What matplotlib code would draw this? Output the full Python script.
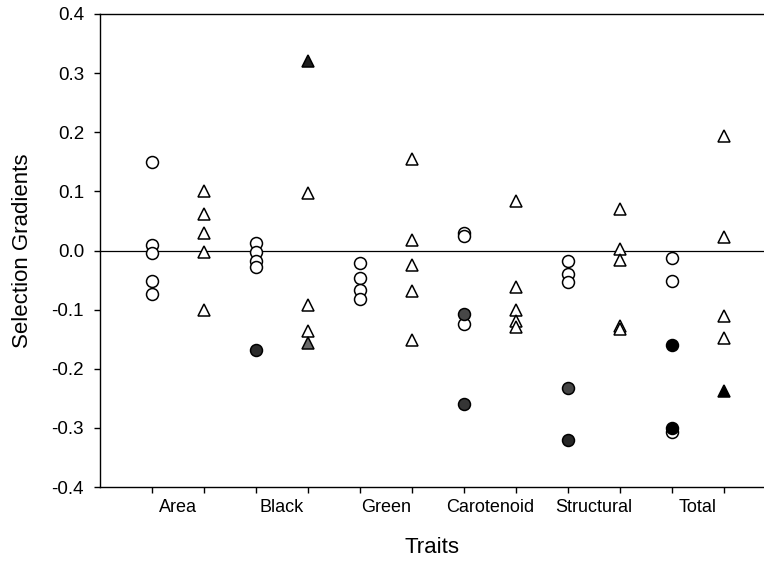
import matplotlib
matplotlib.use("Agg")
import matplotlib.pyplot as plt

plt.rcParams['font.family'] = ['Liberation Sans', 'DejaVu Sans']

# Trait categories along the x axis
categories = ['Area', 'Black', 'Green', 'Carotenoid', 'Structural', 'Total']

# Selection gradients, circles (left column of each trait)
circle_open = [
    [0.150, 0.010, -0.004, -0.052, -0.074],
    [0.013, -0.003, -0.017, -0.028],
    [-0.021, -0.047, -0.067, -0.082],
    [0.029, 0.024, -0.124],
    [-0.017, -0.039, -0.054],
    [-0.012, -0.052, -0.307],
]
circle_filled = [
    [],
    [-0.168],
    [],
    [-0.108, -0.259],
    [-0.233, -0.320],
    [-0.159, -0.301],
]
circle_filled_colors = [
    [],
    ['#2b2b2b'],
    [],
    ['#474747', '#353535'],
    ['#454545', '#262626'],
    ['#000000', '#000000'],
]

# Selection gradients, triangles (right column of each trait)
triangle_open = [
    [0.100, 0.061, 0.029, -0.003, -0.101],
    [0.098, -0.093, -0.136],
    [0.154, 0.017, -0.025, -0.068, -0.152],
    [0.084, -0.061, -0.100, -0.119, -0.129],
    [0.071, 0.003, -0.016, -0.127, -0.132],
    [0.194, 0.023, -0.110, -0.148],
]
triangle_filled = [
    [],
    [0.321, -0.157],
    [],
    [],
    [],
    [-0.237],
]
triangle_filled_colors = [
    [],
    ['#1e1e1e', '#6a6a6a'],
    [],
    [],
    [],
    ['#000000'],
]

fig = plt.figure(figsize=(7.64, 5.61), dpi=100)
ax = fig.add_axes([100 / 764, 1 - 487 / 561, 664 / 764, (487 - 14) / 561])

ms = 8.6
mew = 1.1
for i, cat in enumerate(categories):
    xc = 2 * i + 1
    xt = 2 * i + 2
    ax.plot([xc] * len(circle_open[i]), circle_open[i], linestyle='none',
            marker='o', ms=ms, mfc='white', mec='black', mew=mew, zorder=3)
    for v, c in zip(circle_filled[i], circle_filled_colors[i]):
        ax.plot([xc], [v], linestyle='none', marker='o', ms=ms, mfc=c,
                mec='black', mew=mew, zorder=4)
    ax.plot([xt] * len(triangle_open[i]), triangle_open[i], linestyle='none',
            marker='^', ms=ms, mfc='white', mec='black', mew=mew, zorder=3)
    for v, c in zip(triangle_filled[i], triangle_filled_colors[i]):
        ax.plot([xt], [v], linestyle='none', marker='^', ms=ms, mfc=c,
                mec='black', mew=mew, zorder=4)

ax.axhline(0, color='black', lw=0.9, zorder=2)

ax.set_ylim(-0.4, 0.4)
ax.set_xlim(0, 664 / 52)
ax.set_yticks([-0.4, -0.3, -0.2, -0.1, 0.0, 0.1, 0.2, 0.3, 0.4])
ax.set_yticklabels([f'{v:.1f}' for v in ax.get_yticks()])

ax.set_xticks(range(1, 2 * len(categories) + 1))
ax.set_xticklabels([])
ax.set_xticks([2 * i + 1.5 for i in range(len(categories))], minor=True)
ax.set_xticklabels(categories, minor=True)

ax.tick_params(axis='x', which='major', direction='out', length=4.5, width=1.0)
ax.tick_params(axis='x', which='minor', length=0, pad=9, labelsize=13)
ax.tick_params(axis='y', direction='out', length=4.5, width=1.0, pad=7,
               labelsize=13.5)

for side in ['left', 'bottom', 'top']:
    ax.spines[side].set_linewidth(1.0)
ax.spines['right'].set_visible(False)

ax.set_xlabel('Traits', fontsize=16, labelpad=15)
ax.set_ylabel('Selection Gradients', fontsize=16, labelpad=13)

fig.savefig('out.png', dpi=100)
